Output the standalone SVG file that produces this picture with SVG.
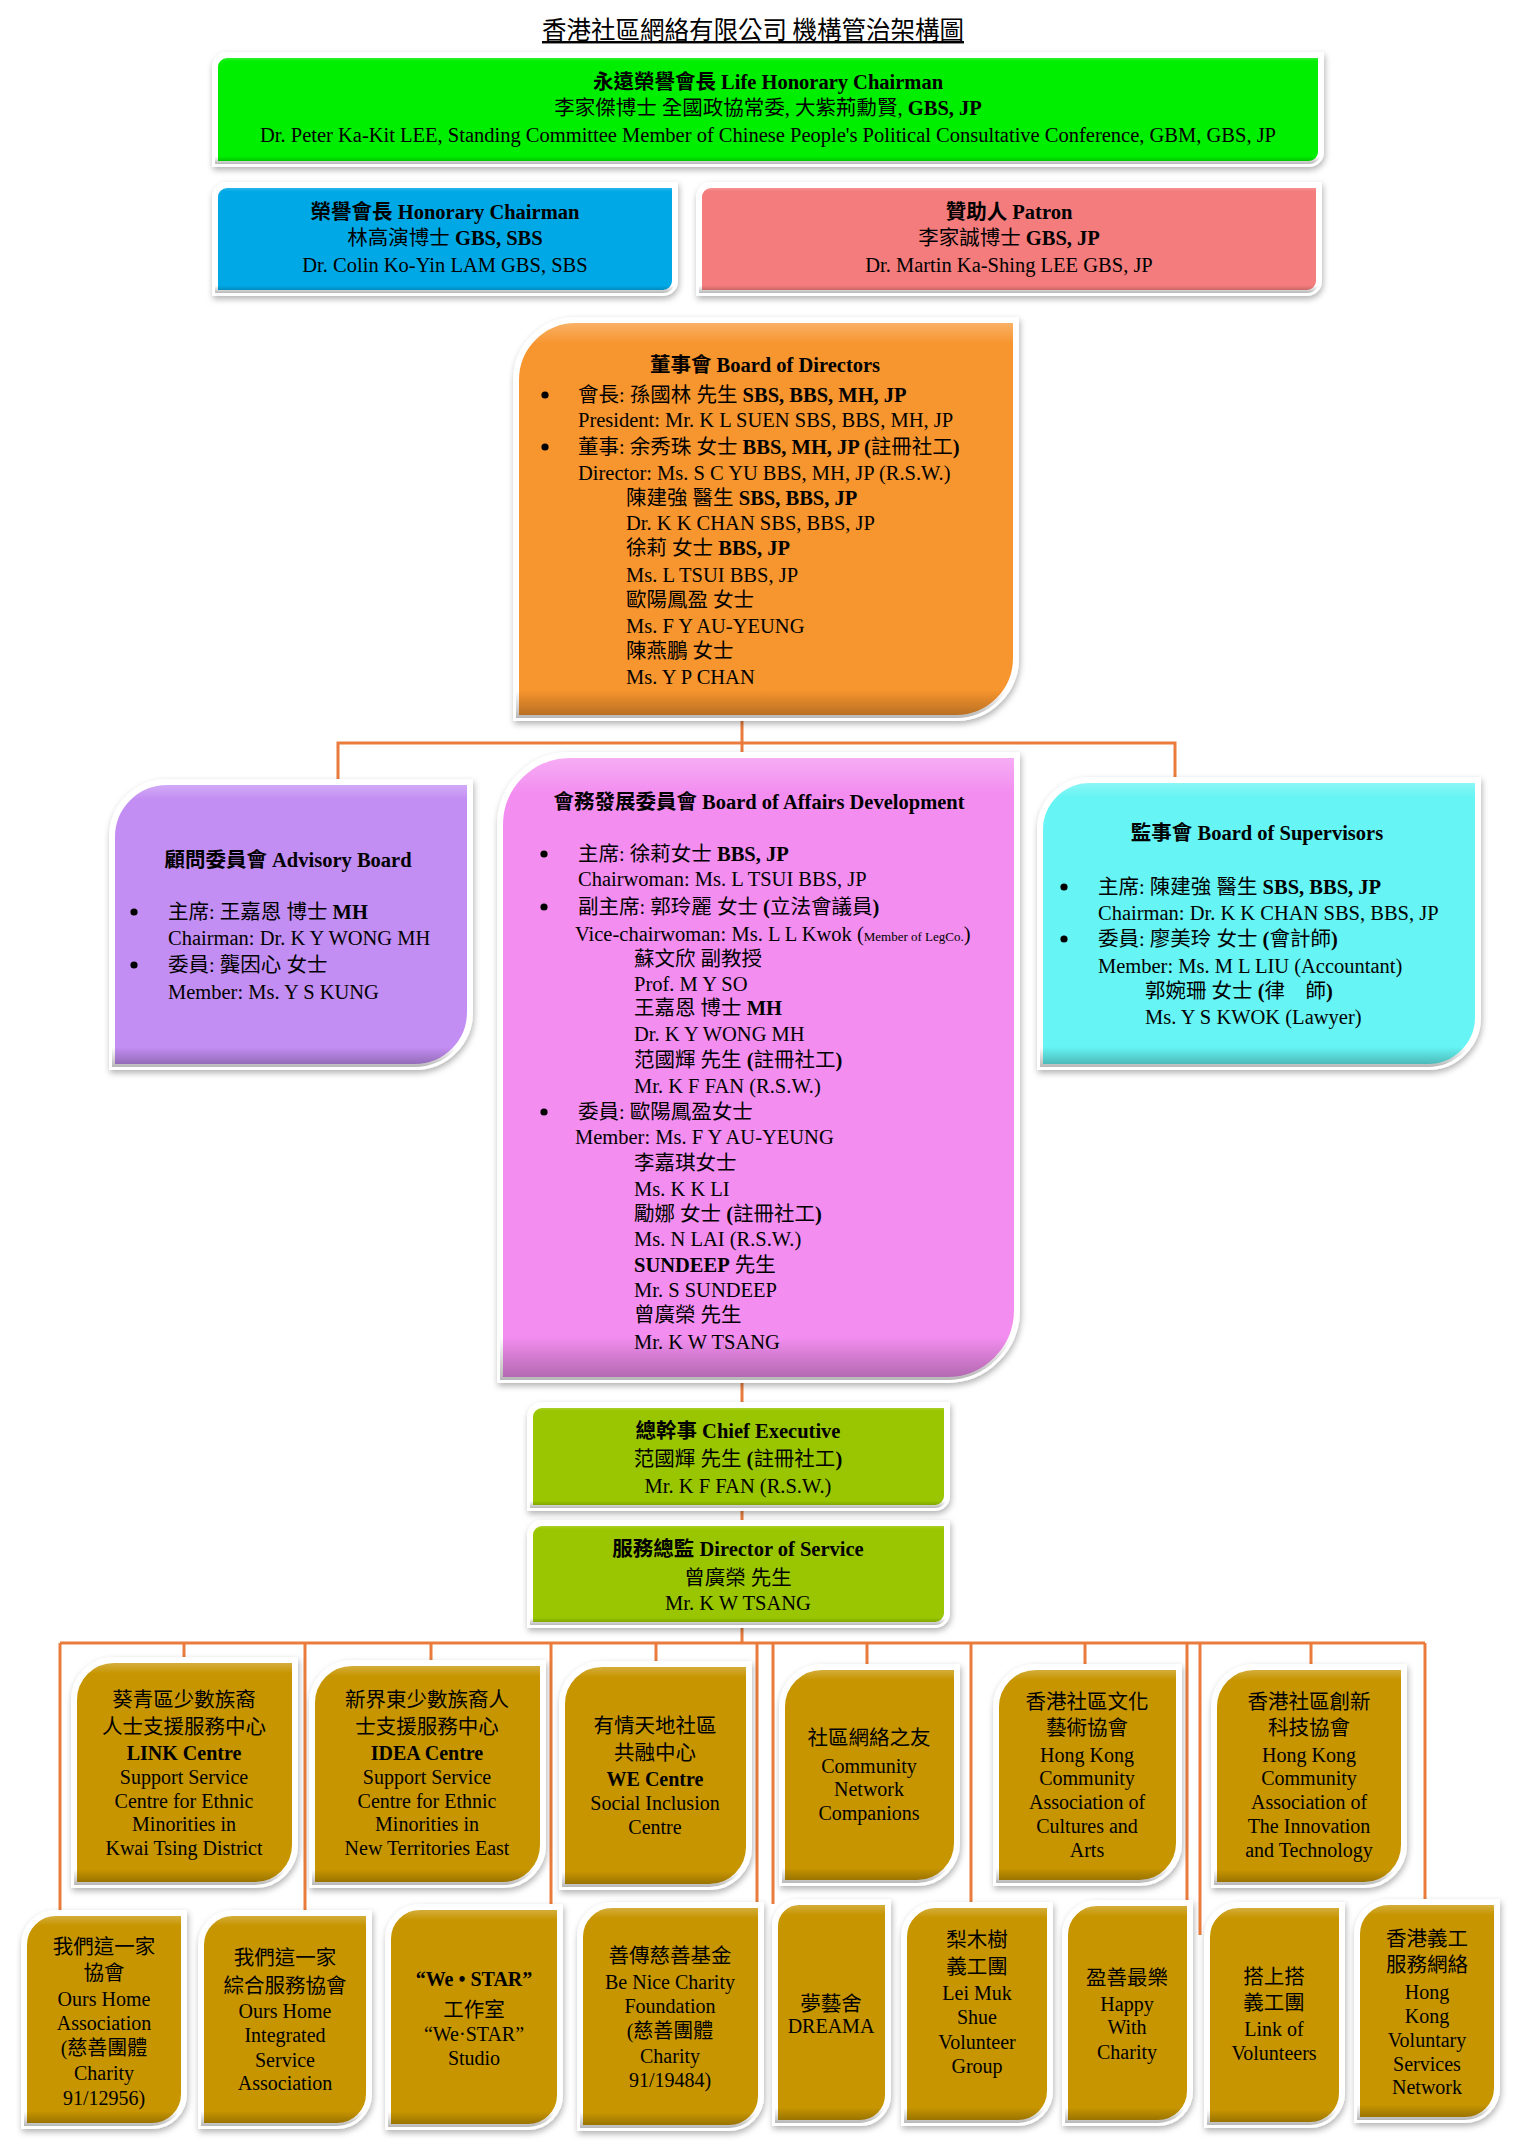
<svg xmlns="http://www.w3.org/2000/svg" width="1518" height="2150" viewBox="0 0 1518 2150">
<defs>
<style>
.t{font-family:"Liberation Serif","Noto Sans CJK TC",serif;font-size:20.5px;fill:#000}
.g{font-family:"Liberation Serif","Noto Sans CJK TC",serif;font-size:20px;fill:#000;text-anchor:middle}
.c{text-anchor:middle}
.b{font-weight:bold}
.cn{font-family:"Noto Sans CJK TC","Liberation Serif",sans-serif;font-size:20.5px}
.sm{font-size:13px}
.bu{fill:#000}
.box{stroke:#fff;stroke-width:6;filter:url(#sh)}
.bev{fill:url(#bev);stroke:none}
.ln{stroke:#e97c3c;stroke-width:3;fill:none}
.gold{fill:#c79500}
</style>
<filter id="sh" x="-10%" y="-10%" width="120%" height="125%">
<feDropShadow dx="1" dy="3" stdDeviation="3" flood-color="#000" flood-opacity="0.3"/>
</filter>
<linearGradient id="bev" x1="0" y1="0" x2="0" y2="1">
<stop offset="0" stop-color="#fff" stop-opacity="0.3"/>
<stop offset="0.06" stop-color="#fff" stop-opacity="0"/>
<stop offset="0.93" stop-color="#000" stop-opacity="0"/>
<stop offset="1" stop-color="#000" stop-opacity="0.28"/>
</linearGradient>
</defs>
<rect width="1518" height="2150" fill="#fff"/>

<g id="title">
<text x="753" y="39" font-family="'Noto Sans CJK TC','Liberation Sans',sans-serif" font-size="24.5" text-anchor="middle" text-decoration="underline">香港社區網絡有限公司 機構管治架構圖</text>
</g>

<g id="connectors">
<path class="ln" d="M742,718 V755 M338,782 V743 H1175 V780"/>
<path class="ln" d="M742,1380 V1405 M742,1508 V1523 M742,1625 V1643"/>
<path class="ln" d="M60,1643 H1425"/>
<path class="ln" d="M184,1643 V1662 M431,1643 V1665 M656,1643 V1666 M867,1643 V1669 M1085,1643 V1669 M1311,1643 V1669"/>
<path class="ln" d="M60,1643 V1915 M305,1643 V1915 M551,1643 V1909 M757,1643 V1907 M773,1643 V1904 M971,1643 V1907 M1187,1643 V1905 M1200,1643 V1935 M1425,1643 V1904"/>
</g>

<g id="life-honorary-chairman">
<path class="box" fill="#00ee00" d="M215,67 A12,12 0 0 1 227,55 H1321 V152 A12,12 0 0 1 1309,164 H215 Z"/>
<path class="bev" d="M215,67 A12,12 0 0 1 227,55 H1321 V152 A12,12 0 0 1 1309,164 H215 Z"/>
<text class="t c b" x="768" y="89">永遠榮譽會長 Life Honorary Chairman</text>
<text class="t c" x="768" y="115">李家傑博士 全國政協常委, 大紫荊勳賢, <tspan class="b">GBS, JP</tspan></text>
<text class="t c" x="768" y="142">Dr. Peter Ka-Kit LEE, Standing Committee Member of Chinese People's Political Consultative Conference, GBM, GBS, JP</text>
</g>

<g id="honorary-chairman">
<path class="box" fill="#00a9e6" d="M215,197 A12,12 0 0 1 227,185 H675 V281 A12,12 0 0 1 663,293 H215 Z"/>
<path class="bev" d="M215,197 A12,12 0 0 1 227,185 H675 V281 A12,12 0 0 1 663,293 H215 Z"/>
<text class="t c b" x="445" y="219">榮譽會長 Honorary Chairman</text>
<text class="t c" x="445" y="245">林高演博士 <tspan class="b">GBS, SBS</tspan></text>
<text class="t c" x="445" y="272">Dr. Colin Ko-Yin LAM GBS, SBS</text>
</g>

<g id="patron">
<path class="box" fill="#f47b7b" d="M699,197 A12,12 0 0 1 711,185 H1319 V281 A12,12 0 0 1 1307,293 H699 Z"/>
<path class="bev" d="M699,197 A12,12 0 0 1 711,185 H1319 V281 A12,12 0 0 1 1307,293 H699 Z"/>
<text class="t c b" x="1009" y="219">贊助人 Patron</text>
<text class="t c" x="1009" y="245">李家誠博士 <tspan class="b">GBS, JP</tspan></text>
<text class="t c" x="1009" y="272">Dr. Martin Ka-Shing LEE GBS, JP</text>
</g>

<g id="board-of-directors">
<path class="box" fill="#f7952f" d="M516,380 A60,60 0 0 1 576,320 H1016 V658 A60,60 0 0 1 956,718 H516 Z"/>
<path class="bev" d="M516,380 A60,60 0 0 1 576,320 H1016 V658 A60,60 0 0 1 956,718 H516 Z"/>
<text class="t c b" x="765" y="372">董事會 Board of Directors</text>
<circle class="bu" cx="545" cy="395" r="3.6"/>
<text class="t" x="578" y="402">會長: 孫國林 先生 <tspan class="b">SBS, BBS, MH, JP</tspan></text>
<text class="t" x="578" y="427">President: Mr. K L SUEN SBS, BBS, MH, JP</text>
<circle class="bu" cx="545" cy="447" r="3.6"/>
<text class="t" x="578" y="454">董事: 余秀珠 女士 <tspan class="b">BBS, MH, JP (</tspan>註冊社工<tspan class="b">)</tspan></text>
<text class="t" x="578" y="480">Director: Ms. S C YU BBS, MH, JP (R.S.W.)</text>
<text class="t" x="626" y="505">陳建強 醫生 <tspan class="b">SBS, BBS, JP</tspan></text>
<text class="t" x="626" y="530">Dr. K K CHAN SBS, BBS, JP</text>
<text class="t" x="626" y="555">徐莉 女士 <tspan class="b">BBS, JP</tspan></text>
<text class="t" x="626" y="582">Ms. L TSUI BBS, JP</text>
<text class="t" x="626" y="607">歐陽鳳盈 女士</text>
<text class="t" x="626" y="633">Ms. F Y AU-YEUNG</text>
<text class="t" x="626" y="658">陳燕鵬 女士</text>
<text class="t" x="626" y="684">Ms. Y P CHAN</text>
</g>

<g id="advisory-board">
<path class="box" fill="#c38ef3" d="M112,837 A55,55 0 0 1 167,782 H470 V1012 A55,55 0 0 1 415,1067 H112 Z"/>
<path class="bev" d="M112,837 A55,55 0 0 1 167,782 H470 V1012 A55,55 0 0 1 415,1067 H112 Z"/>
<text class="t c b" x="288" y="867">顧問委員會 Advisory Board</text>
<circle class="bu" cx="134" cy="912" r="3.6"/>
<text class="t" x="168" y="919">主席: 王嘉恩 博士 <tspan class="b">MH</tspan></text>
<text class="t" x="168" y="945">Chairman: Dr. K Y WONG MH</text>
<circle class="bu" cx="134" cy="965" r="3.6"/>
<text class="t" x="168" y="972">委員: 龔因心 女士</text>
<text class="t" x="168" y="999">Member: Ms. Y S KUNG</text>
</g>

<g id="board-of-affairs-development">
<path class="box" fill="#f38ef0" d="M500,825 A70,70 0 0 1 570,755 H1017 V1310 A70,70 0 0 1 947,1380 H500 Z"/>
<path class="bev" d="M500,825 A70,70 0 0 1 570,755 H1017 V1310 A70,70 0 0 1 947,1380 H500 Z"/>
<text class="t c b" x="759" y="809">會務發展委員會 Board of Affairs Development</text>
<circle class="bu" cx="544" cy="854" r="3.6"/>
<text class="t" x="578" y="861">主席: 徐莉女士 <tspan class="b">BBS, JP</tspan></text>
<text class="t" x="578" y="886">Chairwoman: Ms. L TSUI BBS, JP</text>
<circle class="bu" cx="544" cy="907" r="3.6"/>
<text class="t" x="578" y="914">副主席: 郭玲麗 女士 <tspan class="b">(</tspan>立法會議員<tspan class="b">)</tspan></text>
<text class="t" x="575" y="941">Vice-chairwoman: Ms. L L Kwok (<tspan class="sm">Member of LegCo.</tspan>)</text>
<text class="t" x="634" y="966">蘇文欣 副教授</text>
<text class="t" x="634" y="991">Prof. M Y SO</text>
<text class="t" x="634" y="1015">王嘉恩 博士 <tspan class="b">MH</tspan></text>
<text class="t" x="634" y="1041">Dr. K Y WONG MH</text>
<text class="t" x="634" y="1067">范國輝 先生 <tspan class="b">(</tspan>註冊社工<tspan class="b">)</tspan></text>
<text class="t" x="634" y="1093">Mr. K F FAN (R.S.W.)</text>
<circle class="bu" cx="544" cy="1112" r="3.6"/>
<text class="t" x="578" y="1119">委員: 歐陽鳳盈女士</text>
<text class="t" x="575" y="1144">Member: Ms. F Y AU-YEUNG</text>
<text class="t" x="634" y="1170">李嘉琪女士</text>
<text class="t" x="634" y="1196">Ms. K K LI</text>
<text class="t" x="634" y="1221">勵娜 女士 <tspan class="b">(</tspan>註冊社工<tspan class="b">)</tspan></text>
<text class="t" x="634" y="1246">Ms. N LAI (R.S.W.)</text>
<text class="t" x="634" y="1272"><tspan class="b">SUNDEEP</tspan> 先生</text>
<text class="t" x="634" y="1297">Mr. S SUNDEEP</text>
<text class="t" x="634" y="1322">曾廣榮 先生</text>
<text class="t" x="634" y="1349">Mr. K W TSANG</text>
</g>

<g id="board-of-supervisors">
<path class="box" fill="#66f4f4" d="M1040,830 A50,50 0 0 1 1090,780 H1478 V1017 A50,50 0 0 1 1428,1067 H1040 Z"/>
<path class="bev" d="M1040,830 A50,50 0 0 1 1090,780 H1478 V1017 A50,50 0 0 1 1428,1067 H1040 Z"/>
<text class="t c b" x="1257" y="840">監事會 Board of Supervisors</text>
<circle class="bu" cx="1064" cy="887" r="3.6"/>
<text class="t" x="1098" y="894">主席: 陳建強 醫生 <tspan class="b">SBS, BBS, JP</tspan></text>
<text class="t" x="1098" y="920">Chairman: Dr. K K CHAN SBS, BBS, JP</text>
<circle class="bu" cx="1064" cy="939" r="3.6"/>
<text class="t" x="1098" y="946">委員: 廖美玲 女士 <tspan class="b">(</tspan>會計師<tspan class="b">)</tspan></text>
<text class="t" x="1098" y="973">Member: Ms. M L LIU (Accountant)</text>
<text class="t" x="1145" y="998">郭婉珊 女士 <tspan class="b">(</tspan>律　師<tspan class="b">)</tspan></text>
<text class="t" x="1145" y="1024">Ms. Y S KWOK (Lawyer)</text>
</g>

<g id="chief-executive">
<path class="box" fill="#99c600" d="M530,1417 A12,12 0 0 1 542,1405 H947 V1496 A12,12 0 0 1 935,1508 H530 Z"/>
<path class="bev" d="M530,1417 A12,12 0 0 1 542,1405 H947 V1496 A12,12 0 0 1 935,1508 H530 Z"/>
<text class="t c b" x="738" y="1438">總幹事 Chief Executive</text>
<text class="t c" x="738" y="1466">范國輝 先生  <tspan class="b">(</tspan>註冊社工<tspan class="b">)</tspan></text>
<text class="t c" x="738" y="1493">Mr. K F FAN (R.S.W.)</text>
</g>

<g id="director-of-service">
<path class="box" fill="#99c600" d="M530,1535 A12,12 0 0 1 542,1523 H947 V1613 A12,12 0 0 1 935,1625 H530 Z"/>
<path class="bev" d="M530,1535 A12,12 0 0 1 542,1523 H947 V1613 A12,12 0 0 1 935,1625 H530 Z"/>
<text class="t c b" x="738" y="1556">服務總監 Director of Service</text>
<text class="t c" x="738" y="1585">曾廣榮 先生</text>
<text class="t c" x="738" y="1610">Mr. K W TSANG</text>
</g>

<g id="link-centre">
<path class="box gold" d="M74,1700 A40,40 0 0 1 114,1660 H295 V1845 A40,40 0 0 1 255,1885 H74 Z"/>
<path class="bev" d="M74,1700 A40,40 0 0 1 114,1660 H295 V1845 A40,40 0 0 1 255,1885 H74 Z"/>
<text class="g cn" x="184" y="1707">葵青區少數族裔</text>
<text class="g cn" x="184" y="1734">人士支援服務中心</text>
<text class="g b" x="184" y="1760">LINK Centre</text>
<text class="g" x="184" y="1784">Support Service</text>
<text class="g" x="184" y="1808">Centre for Ethnic</text>
<text class="g" x="184" y="1831">Minorities in</text>
<text class="g" x="184" y="1855">Kwai Tsing District</text>
</g>

<g id="idea-centre">
<path class="box gold" d="M312,1703 A40,40 0 0 1 352,1663 H543 V1845 A40,40 0 0 1 503,1885 H312 Z"/>
<path class="bev" d="M312,1703 A40,40 0 0 1 352,1663 H543 V1845 A40,40 0 0 1 503,1885 H312 Z"/>
<text class="g cn" x="427" y="1707">新界東少數族裔人</text>
<text class="g cn" x="427" y="1734">士支援服務中心</text>
<text class="g b" x="427" y="1760">IDEA Centre</text>
<text class="g" x="427" y="1784">Support Service</text>
<text class="g" x="427" y="1808">Centre for Ethnic</text>
<text class="g" x="427" y="1831">Minorities in</text>
<text class="g" x="427" y="1855">New Territories East</text>
</g>

<g id="we-centre">
<path class="box gold" d="M562,1704 A40,40 0 0 1 602,1664 H749 V1847 A40,40 0 0 1 709,1887 H562 Z"/>
<path class="bev" d="M562,1704 A40,40 0 0 1 602,1664 H749 V1847 A40,40 0 0 1 709,1887 H562 Z"/>
<text class="g cn" x="655" y="1733">有情天地社區</text>
<text class="g cn" x="655" y="1760">共融中心</text>
<text class="g b" x="655" y="1786">WE Centre</text>
<text class="g" x="655" y="1810">Social Inclusion</text>
<text class="g" x="655" y="1834">Centre</text>
</g>

<g id="community-network-companions">
<path class="box gold" d="M782,1707 A40,40 0 0 1 822,1667 H957 V1843 A40,40 0 0 1 917,1883 H782 Z"/>
<path class="bev" d="M782,1707 A40,40 0 0 1 822,1667 H957 V1843 A40,40 0 0 1 917,1883 H782 Z"/>
<text class="g cn" x="869" y="1745">社區網絡之友</text>
<text class="g" x="869" y="1773">Community</text>
<text class="g" x="869" y="1796">Network</text>
<text class="g" x="869" y="1820">Companions</text>
</g>

<g id="cultures-and-arts">
<path class="box gold" d="M996,1707 A40,40 0 0 1 1036,1667 H1179 V1843 A40,40 0 0 1 1139,1883 H996 Z"/>
<path class="bev" d="M996,1707 A40,40 0 0 1 1036,1667 H1179 V1843 A40,40 0 0 1 1139,1883 H996 Z"/>
<text class="g cn" x="1087" y="1709">香港社區文化</text>
<text class="g cn" x="1087" y="1735">藝術協會</text>
<text class="g" x="1087" y="1762">Hong Kong</text>
<text class="g" x="1087" y="1785">Community</text>
<text class="g" x="1087" y="1809">Association of</text>
<text class="g" x="1087" y="1833">Cultures and</text>
<text class="g" x="1087" y="1857">Arts</text>
</g>

<g id="innovation-and-technology">
<path class="box gold" d="M1214,1707 A40,40 0 0 1 1254,1667 H1404 V1845 A40,40 0 0 1 1364,1885 H1214 Z"/>
<path class="bev" d="M1214,1707 A40,40 0 0 1 1254,1667 H1404 V1845 A40,40 0 0 1 1364,1885 H1214 Z"/>
<text class="g cn" x="1309" y="1709">香港社區創新</text>
<text class="g cn" x="1309" y="1735">科技協會</text>
<text class="g" x="1309" y="1762">Hong Kong</text>
<text class="g" x="1309" y="1785">Community</text>
<text class="g" x="1309" y="1809">Association of</text>
<text class="g" x="1309" y="1833">The Innovation</text>
<text class="g" x="1309" y="1857">and Technology</text>
</g>

<g id="ours-home-association">
<path class="box gold" d="M24,1945 A32,32 0 0 1 56,1913 H184 V2094 A32,32 0 0 1 152,2126 H24 Z"/>
<path class="bev" d="M24,1945 A32,32 0 0 1 56,1913 H184 V2094 A32,32 0 0 1 152,2126 H24 Z"/>
<text class="g cn" x="104" y="1954">我們這一家</text>
<text class="g cn" x="104" y="1980">協會</text>
<text class="g" x="104" y="2006">Ours Home</text>
<text class="g" x="104" y="2030">Association</text>
<text class="g" x="104" y="2055">(慈善團體</text>
<text class="g" x="104" y="2080">Charity</text>
<text class="g" x="104" y="2105">91/12956)</text>
</g>

<g id="ours-home-integrated">
<path class="box gold" d="M201,1945 A32,32 0 0 1 233,1913 H369 V2094 A32,32 0 0 1 337,2126 H201 Z"/>
<path class="bev" d="M201,1945 A32,32 0 0 1 233,1913 H369 V2094 A32,32 0 0 1 337,2126 H201 Z"/>
<text class="g cn" x="285" y="1965">我們這一家</text>
<text class="g cn" x="285" y="1993">綜合服務協會</text>
<text class="g" x="285" y="2018">Ours Home</text>
<text class="g" x="285" y="2042">Integrated</text>
<text class="g" x="285" y="2067">Service</text>
<text class="g" x="285" y="2090">Association</text>
</g>

<g id="we-star-studio">
<path class="box gold" d="M388,1939 A32,32 0 0 1 420,1907 H560 V2095 A32,32 0 0 1 528,2127 H388 Z"/>
<path class="bev" d="M388,1939 A32,32 0 0 1 420,1907 H560 V2095 A32,32 0 0 1 528,2127 H388 Z"/>
<text class="g b" x="474" y="1986">“We • STAR”</text>
<text class="g cn" x="474" y="2017">工作室</text>
<text class="g" x="474" y="2041" font-size="18">“We·STAR”</text>
<text class="g" x="474" y="2065" font-size="18">Studio</text>
</g>

<g id="be-nice-charity">
<path class="box gold" d="M580,1937 A32,32 0 0 1 612,1905 H761 V2096 A32,32 0 0 1 729,2128 H580 Z"/>
<path class="bev" d="M580,1937 A32,32 0 0 1 612,1905 H761 V2096 A32,32 0 0 1 729,2128 H580 Z"/>
<text class="g cn" x="670" y="1963">善傳慈善基金</text>
<text class="g" x="670" y="1989">Be Nice Charity</text>
<text class="g" x="670" y="2013">Foundation</text>
<text class="g" x="670" y="2038">(慈善團體</text>
<text class="g" x="670" y="2063">Charity</text>
<text class="g" x="670" y="2087">91/19484)</text>
</g>

<g id="dreama">
<path class="box gold" d="M775,1926 A24,24 0 0 1 799,1902 H888 V2095 A28,28 0 0 1 860,2123 H775 Z"/>
<path class="bev" d="M775,1926 A24,24 0 0 1 799,1902 H888 V2095 A28,28 0 0 1 860,2123 H775 Z"/>
<text class="g cn" x="831" y="2011">夢藝舍</text>
<text class="g" x="831" y="2033" font-size="16">DREAMA</text>
</g>

<g id="lei-muk-shue">
<path class="box gold" d="M904,1937 A32,32 0 0 1 936,1905 H1050 V2091 A32,32 0 0 1 1018,2123 H904 Z"/>
<path class="bev" d="M904,1937 A32,32 0 0 1 936,1905 H1050 V2091 A32,32 0 0 1 1018,2123 H904 Z"/>
<text class="g cn" x="977" y="1947">梨木樹</text>
<text class="g cn" x="977" y="1974">義工團</text>
<text class="g" x="977" y="2000">Lei Muk</text>
<text class="g" x="977" y="2024">Shue</text>
<text class="g" x="977" y="2049">Volunteer</text>
<text class="g" x="977" y="2073">Group</text>
</g>

<g id="happy-with-charity">
<path class="box gold" d="M1065,1935 A32,32 0 0 1 1097,1903 H1190 V2091 A32,32 0 0 1 1158,2123 H1065 Z"/>
<path class="bev" d="M1065,1935 A32,32 0 0 1 1097,1903 H1190 V2091 A32,32 0 0 1 1158,2123 H1065 Z"/>
<text class="g cn" x="1127" y="1985">盈善最樂</text>
<text class="g" x="1127" y="2011">Happy</text>
<text class="g" x="1127" y="2034">With</text>
<text class="g" x="1127" y="2059">Charity</text>
</g>

<g id="link-of-volunteers">
<path class="box gold" d="M1207,1937 A32,32 0 0 1 1239,1905 H1342 V2093 A32,32 0 0 1 1310,2125 H1207 Z"/>
<path class="bev" d="M1207,1937 A32,32 0 0 1 1239,1905 H1342 V2093 A32,32 0 0 1 1310,2125 H1207 Z"/>
<text class="g cn" x="1274" y="1984">搭上搭</text>
<text class="g cn" x="1274" y="2010">義工團</text>
<text class="g" x="1274" y="2036">Link of</text>
<text class="g" x="1274" y="2060">Volunteers</text>
</g>

<g id="hk-voluntary-services-network">
<path class="box gold" d="M1357,1934 A32,32 0 0 1 1389,1902 H1497 V2088 A32,32 0 0 1 1465,2120 H1357 Z"/>
<path class="bev" d="M1357,1934 A32,32 0 0 1 1389,1902 H1497 V2088 A32,32 0 0 1 1465,2120 H1357 Z"/>
<text class="g cn" x="1427" y="1946">香港義工</text>
<text class="g cn" x="1427" y="1972">服務網絡</text>
<text class="g" x="1427" y="1999">Hong</text>
<text class="g" x="1427" y="2023">Kong</text>
<text class="g" x="1427" y="2047">Voluntary</text>
<text class="g" x="1427" y="2071">Services</text>
<text class="g" x="1427" y="2094">Network</text>
</g>
</svg>
